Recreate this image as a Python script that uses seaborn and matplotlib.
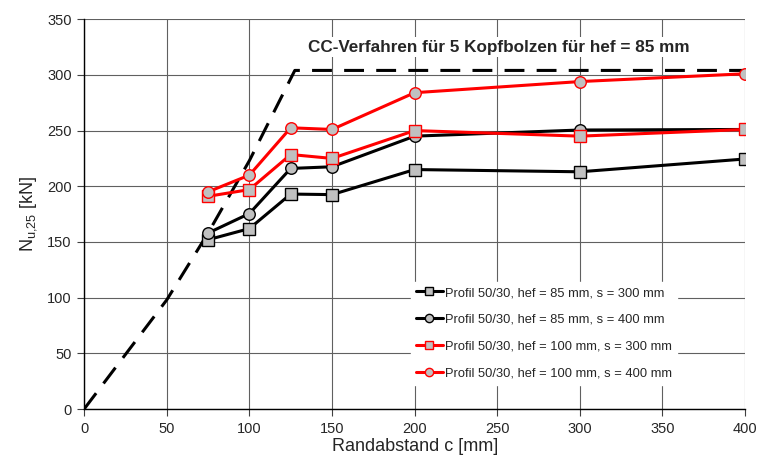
import numpy as np
import pandas as pd
import matplotlib
matplotlib.use("Agg")
import matplotlib.pyplot as plt
import seaborn as sns

# Data
c_vals = [75, 100, 125, 150, 200, 300, 400]
s1_h85_s300 = [152, 162, 193, 192.5, 215, 213, 224.5]
s2_h85_s400 = [158, 175.5, 216, 217.5, 245, 250.5, 251]
s3_h100_s300 = [191, 197, 228.5, 225, 250, 245, 251]
s4_h100_s400 = [195, 210, 252.5, 251, 284, 294, 301]
cc_c = [0, 25, 50, 75, 100, 127.5, 400]
cc_n = [0, 49, 98, 158, 223, 304, 304]
labels = ["Profil 50/30, hef = 85 mm, s = 300 mm",
          "Profil 50/30, hef = 85 mm, s = 400 mm",
          "Profil 50/30, hef = 100 mm, s = 300 mm",
          "Profil 50/30, hef = 100 mm, s = 400 mm"]
x_ticks = [0, 50, 100, 150, 200, 250, 300, 350, 400]
y_ticks = [0, 50, 100, 150, 200, 250, 300, 350]

sns.set_style("white")
plt.rcParams['font.family'] = ['Liberation Sans', 'DejaVu Sans']
plt.rcParams['mathtext.fontset'] = 'custom'
plt.rcParams['mathtext.rm'] = 'Liberation Sans'
plt.rcParams['mathtext.it'] = 'Liberation Sans:italic'

fig = plt.figure(figsize=(7.58, 4.68), dpi=100)
ax = fig.add_axes([0.111, 0.126, 0.872, 0.833])

series = [
    (s1_h85_s300, 'black', 's', 'black'),
    (s2_h85_s400, 'black', 'o', 'black'),
    (s3_h100_s300, 'red', 's', 'red'),
    (s4_h100_s400, 'red', 'o', 'red'),
]
for (vals, col, mk, ec), lab in zip(series, labels):
    sns.lineplot(x=c_vals, y=vals, ax=ax, color=col, marker=mk, markersize=8.3,
                 markerfacecolor='#c0c0c0', markeredgecolor=ec, markeredgewidth=1.0,
                 linewidth=2.2, label=lab, zorder=4, sort=False)

sns.lineplot(x=cc_c, y=cc_n, ax=ax, color='black', linewidth=2.2, zorder=3,
             sort=False)
ax.lines[-1].set_dashes((6.5, 4))

ax.set_xlim(0, 400)
ax.set_ylim(0, 350)
ax.set_xticks(x_ticks)
ax.set_yticks(y_ticks)
ax.grid(True, color='#606060', linewidth=0.8, zorder=0)
ax.set_axisbelow(True)
for s in ['top', 'right']:
    ax.spines[s].set_visible(False)
for s in ['left', 'bottom']:
    ax.spines[s].set_color('black')
    ax.spines[s].set_linewidth(1.0)
ax.tick_params(axis='both', direction='out', length=5, width=0.8, color='#404040',
               labelsize=10.5, pad=4, bottom=True, left=True)
ax.set_xlabel("Randabstand c [mm]", fontsize=13, labelpad=2)
ax.set_ylabel(r"N$_{\mathrm{u{,}25}}$ [kN]", fontsize=13, labelpad=6)

ax.text(251, 325, "CC-Verfahren für 5 Kopfbolzen für hef = 85 mm", fontsize=12.3,
        fontweight='bold', ha='center', va='center', zorder=5,
        bbox=dict(facecolor='white', edgecolor='none', pad=2))

leg = ax.legend(loc='lower left', bbox_to_anchor=(0.494, 0.062), fontsize=9.3,
                frameon=True, framealpha=1, edgecolor='white', facecolor='white',
                handlelength=2.1, labelspacing=1.15, handletextpad=0.15,
                markerscale=0.72, borderaxespad=0, fancybox=False)
leg.set_zorder(6)

fig.savefig("out.png", dpi=100)
